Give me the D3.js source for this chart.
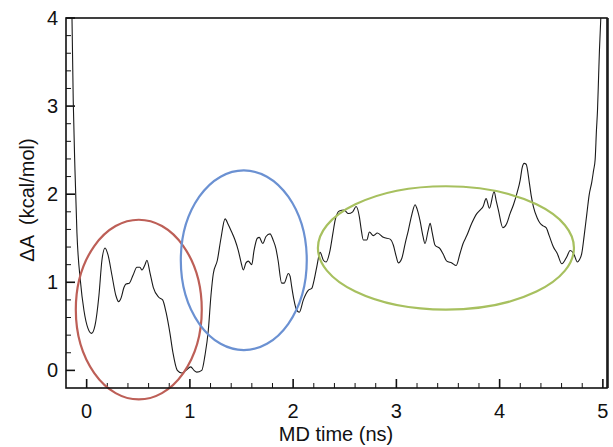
<!DOCTYPE html>
<html><head><meta charset="utf-8">
<script src="https://cdn.jsdelivr.net/npm/d3@7"></script>
<style>body{margin:0;background:#fff}text{font-family:"Liberation Sans",Arial,sans-serif;fill:#111}</style>
</head><body><svg id="c" width="613" height="447"></svg>
<script>
const timeNs = [-0.142,-0.130,-0.113,-0.094,-0.061,-0.026,0.012,0.048,0.081,0.119,0.148,0.178,0.207,0.245,0.283,0.310,0.333,0.361,0.381,0.413,0.449,0.487,0.516,0.536,0.565,0.584,0.613,0.646,0.698,0.736,0.769,0.807,0.836,0.878,0.921,0.962,1.008,1.040,1.066,1.115,1.146,1.178,1.204,1.227,1.266,1.301,1.341,1.370,1.405,1.437,1.469,1.495,1.517,1.543,1.566,1.599,1.621,1.653,1.672,1.706,1.737,1.776,1.806,1.834,1.854,1.889,1.912,1.954,1.970,1.986,2.008,2.029,2.060,2.099,2.148,2.180,2.202,2.228,2.261,2.293,2.319,2.357,2.387,2.406,2.447,2.494,2.535,2.577,2.610,2.642,2.658,2.680,2.713,2.739,2.777,2.816,2.874,2.939,2.971,2.997,3.019,3.052,3.085,3.116,3.152,3.181,3.201,3.229,3.258,3.277,3.308,3.327,3.346,3.375,3.424,3.453,3.488,3.537,3.579,3.617,3.646,3.682,3.730,3.779,3.811,3.840,3.869,3.901,3.947,3.966,3.988,4.031,4.070,4.101,4.134,4.170,4.199,4.218,4.238,4.257,4.289,4.305,4.327,4.364,4.392,4.421,4.450,4.480,4.521,4.557,4.603,4.651,4.683,4.715,4.754,4.770,4.796,4.819,4.845,4.867,4.893,4.910,4.925,4.938,4.948,4.959,4.967,4.980];
const deltaA = [4.00,3.07,2.27,1.56,1.02,0.68,0.48,0.42,0.51,0.85,1.25,1.39,1.31,1.08,0.85,0.78,0.82,0.94,0.98,0.99,1.08,1.17,1.17,1.14,1.20,1.25,1.11,0.94,0.83,0.80,0.66,0.42,0.20,0.00,-0.03,0.00,0.04,0.00,-0.02,0.00,0.17,0.45,0.85,1.10,1.25,1.50,1.72,1.66,1.57,1.48,1.36,1.23,1.14,1.22,1.24,1.20,1.36,1.50,1.51,1.44,1.52,1.55,1.48,1.38,1.25,0.99,0.99,1.10,1.07,0.95,0.80,0.70,0.66,0.80,0.91,0.93,1.02,1.17,1.34,1.25,1.23,1.36,1.57,1.70,1.81,1.82,1.78,1.80,1.86,1.74,1.61,1.48,1.48,1.57,1.53,1.56,1.51,1.49,1.42,1.30,1.22,1.27,1.44,1.59,1.78,1.88,1.83,1.70,1.52,1.44,1.59,1.67,1.57,1.42,1.38,1.32,1.24,1.22,1.19,1.33,1.44,1.53,1.67,1.78,1.82,1.86,1.95,1.84,2.03,1.93,1.82,1.62,1.67,1.78,1.88,2.02,2.16,2.30,2.35,2.34,2.12,1.99,1.86,1.73,1.67,1.64,1.62,1.53,1.40,1.33,1.21,1.29,1.36,1.33,1.23,1.25,1.33,1.53,1.78,1.99,2.14,2.27,2.39,2.73,2.95,3.35,3.64,4.00];
const xTicks = [0,1,2,3,4,5];
const yTicks = [0,1,2,3,4];
// annotation ellipses: centre (ns, kcal/mol), radii in data units
const ellipseCx = [0.505, 1.522, 3.480];
const ellipseCy = [0.69, 1.25, 1.39];
const ellipseRx = [0.61, 0.61, 1.24];
const ellipseRy = [1.02, 1.02, 0.70];
const ellipseColor = ["#bd5f57", "#6b91d2", "#a7c05f"];

const svg = d3.select("#c");
const L=66, R=607, T=18, B=388;
const x = d3.scaleLinear().domain([-0.2,5.04]).range([L,R]);
const y = d3.scaleLinear().domain([-0.2,4]).range([B,T]);

svg.append("defs").append("clipPath").attr("id","clip").append("rect")
  .attr("x",L).attr("y",T).attr("width",R-L).attr("height",B-T);

const xMinor = d3.range(0,26).map(i=>i*0.2).filter(v=>v<5.01&&Math.abs(v-Math.round(v))>0.01);
const yMinor = d3.range(0,21).map(i=>i*0.2).filter(v=>v<3.99&&Math.abs(v-Math.round(v))>0.01);
const g = svg.append("g");
g.selectAll(".xmaj").data(xTicks).join("line").attr("class","xmaj").attr("x1",d=>x(d)).attr("x2",d=>x(d)).attr("y1",B).attr("y2",B-9).attr("stroke","#111").attr("stroke-width",1.6);
g.selectAll(".xmin").data(xMinor).join("line").attr("class","xmin").attr("x1",d=>x(d)).attr("x2",d=>x(d)).attr("y1",B).attr("y2",B-5).attr("stroke","#111").attr("stroke-width",1);
g.selectAll(".ymaj").data(yTicks).join("line").attr("class","ymaj").attr("x1",L).attr("x2",L+9).attr("y1",d=>y(d)).attr("y2",d=>y(d)).attr("stroke","#111").attr("stroke-width",1.6);
g.selectAll(".ymin").data(yMinor).join("line").attr("class","ymin").attr("x1",L).attr("x2",L+5).attr("y1",d=>y(d)).attr("y2",d=>y(d)).attr("stroke","#111").attr("stroke-width",1);

svg.selectAll(".xl").data(xTicks).join("text").attr("class","xl").attr("x",d=>x(d)).attr("y",418).attr("text-anchor","middle").attr("font-size",20).text(d=>d);
svg.selectAll(".yl").data(yTicks).join("text").attr("class","yl").attr("x",58).attr("y",d=>y(d)+7).attr("text-anchor","end").attr("font-size",20).text(d=>d);

svg.append("text").attr("x",336).attr("y",441).attr("text-anchor","middle").attr("font-size",20).text("MD time (ns)");
svg.append("text").attr("transform","translate(34,200) rotate(-90)").attr("text-anchor","middle").attr("font-size",20).style("white-space","pre").text("ΔA  (kcal/mol)");

const line = d3.line().x(d=>x(d[0])).y(d=>y(d[1])).curve(d3.curveMonotoneX);
svg.append("path").datum(timeNs.map((t,i)=>[t,deltaA[i]])).attr("clip-path","url(#clip)")
  .attr("d",line).attr("fill","none").attr("stroke","#1a1a1a").attr("stroke-width",1.1);

svg.selectAll(".el").data(ellipseCx).join("ellipse").attr("class","el")
  .attr("cx",d=>x(d)).attr("cy",(d,i)=>y(ellipseCy[i]))
  .attr("rx",(d,i)=>x(ellipseRx[i])-x(0)).attr("ry",(d,i)=>y(0)-y(ellipseRy[i]))
  .attr("fill","none").attr("stroke",(d,i)=>ellipseColor[i]).attr("stroke-width",2.2);

svg.append("rect").attr("x",L).attr("y",T).attr("width",R-L).attr("height",B-T).attr("fill","none").attr("stroke","#111").attr("stroke-width",1.6);
svg.append("line").attr("x1",R+1).attr("x2",R+1).attr("y1",T).attr("y2",B).attr("stroke","#111").attr("stroke-width",1.5);
</script></body></html>
